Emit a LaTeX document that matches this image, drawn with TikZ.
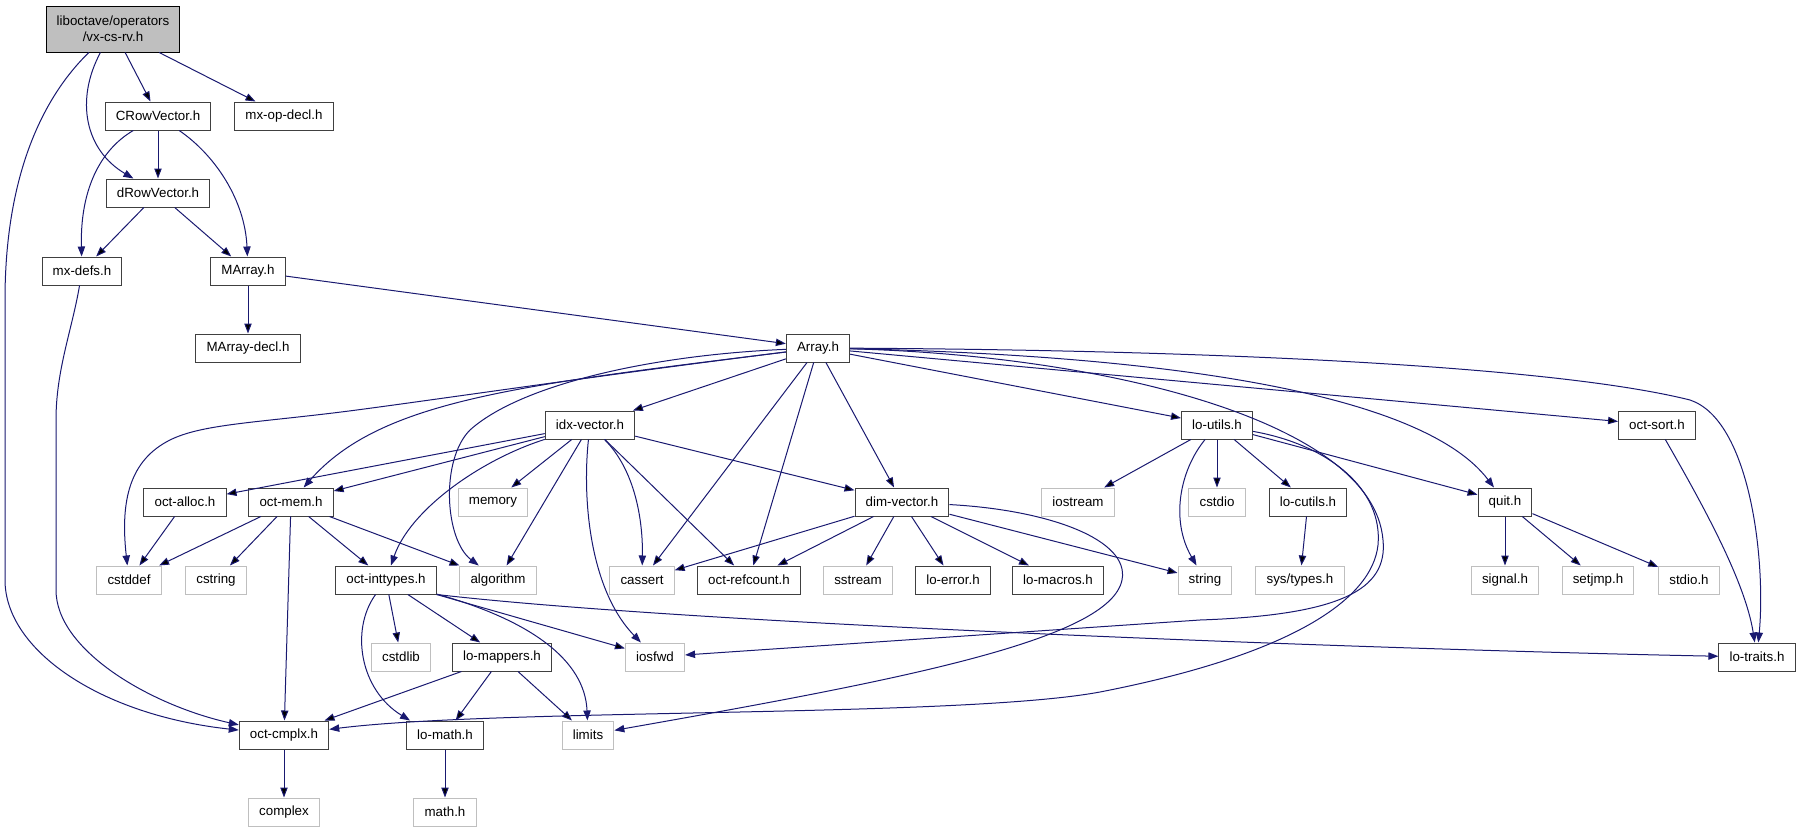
\documentclass[tikz,border=0pt]{standalone}
\usepackage{fontspec}
\setmainfont{Liberation Sans}
\usepackage{tikz}
\usetikzlibrary{arrows.meta}
\definecolor{edgeblue}{HTML}{191970}
\definecolor{boxgray}{HTML}{BFBFBF}
\definecolor{darkline}{HTML}{404040}
\tikzstyle{filenode}=[rectangle, draw=darkline, line width=0.75pt, minimum height=21pt,
inner xsep=8pt, inner ysep=2pt, font=\fontsize{10}{12}\selectfont]
\tikzstyle{mainnode}=[filenode, draw=black, fill=boxgray, align=center, minimum height=34.5pt]
\tikzstyle{sysnode}=[filenode, draw=boxgray]
\tikzstyle{edgepath}=[draw=edgeblue, line width=0.75pt, -{Triangle[length=7.5pt,width=5.5pt]}]

\begin{document}
\begin{tikzpicture}[x=0.75pt, y=-0.75pt]
    \useasboundingbox (0,0) rectangle (1800,832);

    \node[mainnode] (main) at (113,29) {liboctave/operators\\/vx-cs-rv.h};
    \node[filenode] (CRowVector) at (158,116) {CRowVector.h};
    \node[filenode] (mxopdecl) at (284,116) {mx-op-decl.h};
    \node[filenode] (dRowVector) at (158,193) {dRowVector.h};
    \node[filenode] (mxdefs) at (82,271) {mx-defs.h};
    \node[filenode] (MArray) at (248,271) {MArray.h};
    \node[filenode] (MArraydecl) at (248,348) {MArray-decl.h};
    \node[filenode] (Array) at (818,348) {Array.h};

    \node[filenode] (idxvector) at (590,425) {idx-vector.h};
    \node[filenode] (loutils) at (1217,425) {lo-utils.h};
    \node[filenode] (octsort) at (1657,425) {oct-sort.h};

    \node[filenode] (octalloc) at (185,502) {oct-alloc.h};
    \node[filenode] (octmem) at (291,502) {oct-mem.h};
    \node[sysnode] (memory) at (493,502) {memory};
    \node[filenode] (dimvector) at (902,502) {dim-vector.h};
    \node[sysnode] (iostream) at (1078,502) {iostream};
    \node[sysnode] (cstdio) at (1217,502) {cstdio};
    \node[filenode] (locutils) at (1308,502) {lo-cutils.h};
    \node[filenode] (quit) at (1505,502) {quit.h};

    \node[sysnode] (cstddef) at (129,580) {cstddef};
    \node[sysnode] (cstring) at (216,580) {cstring};
    \node[filenode] (octinttypes) at (386,580) {oct-inttypes.h};
    \node[sysnode] (algorithm) at (498,580) {algorithm};
    \node[sysnode] (cassert) at (642,580) {cassert};
    \node[filenode] (octrefcount) at (749,580) {oct-refcount.h};
    \node[sysnode] (sstream) at (858,580) {sstream};
    \node[filenode] (loerror) at (953,580) {lo-error.h};
    \node[filenode] (lomacros) at (1058,580) {lo-macros.h};
    \node[sysnode] (string) at (1205,580) {string};
    \node[sysnode] (systypes) at (1300,580) {sys/types.h};
    \node[sysnode] (signal) at (1505,580) {signal.h};
    \node[sysnode] (setjmp) at (1598,580) {setjmp.h};
    \node[sysnode] (stdio) at (1689,580) {stdio.h};

    \node[sysnode] (cstdlib) at (401,657) {cstdlib};
    \node[filenode] (lomappers) at (502,657) {lo-mappers.h};
    \node[sysnode] (iosfwd) at (655,657) {iosfwd};
    \node[filenode] (lotraits) at (1757,657) {lo-traits.h};

    \node[filenode] (octcmplx) at (284,735) {oct-cmplx.h};
    \node[filenode] (lomath) at (445,735) {lo-math.h};
    \node[sysnode] (limits) at (588,735) {limits};
    \node[sysnode] (complex) at (284,812) {complex};
    \node[sysnode] (mathh) at (445,812) {math.h};

    \path[edgepath]
        (main) edge (CRowVector)
        (main) edge (mxopdecl)
        (CRowVector) edge (dRowVector)
        (dRowVector) edge (mxdefs)
        (dRowVector) edge (MArray)
        (MArray) edge (MArraydecl)
        (MArray) edge (Array)
        (Array) edge (idxvector)
        (Array) edge (cassert)
        (Array) edge (octrefcount)
        (Array) edge (dimvector)
        (Array) edge (loutils)
        (Array) edge (octsort)
        (idxvector) edge (octalloc)
        (idxvector) edge (octmem)
        (idxvector) edge (memory)
        (idxvector) edge (algorithm)
        (idxvector) edge (octrefcount)
        (idxvector) edge (dimvector)
        (octalloc) edge (cstddef)
        (octmem) edge (cstddef)
        (octmem) edge (cstring)
        (octmem) edge (octcmplx)
        (octmem) edge (octinttypes)
        (octmem) edge (algorithm)
        (octinttypes) edge (cstdlib)
        (octinttypes) edge (lomappers)
        (octinttypes) edge (iosfwd)
        (lomappers) edge (octcmplx)
        (lomappers) edge (lomath)
        (lomappers) edge (limits)
        (octcmplx) edge (complex)
        (lomath) edge (mathh)
        (dimvector) edge (cassert)
        (dimvector) edge (octrefcount)
        (dimvector) edge (sstream)
        (dimvector) edge (loerror)
        (dimvector) edge (lomacros)
        (dimvector) edge (string)
        (loutils) edge (iostream)
        (loutils) edge (cstdio)
        (loutils) edge (locutils)
        (loutils) edge (quit)
        (locutils) edge (systypes)
        (quit) edge (signal)
        (quit) edge (setjmp)
        (quit) edge (stdio);

    \draw[edgepath] (main) .. controls (75,100) and (85,150) .. (dRowVector);
    \draw[edgepath] (main) .. controls (40,100) and (5,180) .. (5,300) -- (5,580)
        .. controls (5,650) and (100,715) .. (octcmplx);
    \draw[edgepath] (CRowVector) .. controls (100,150) and (80,190) .. (mxdefs);
    \draw[edgepath] (CRowVector) .. controls (215,155) and (245,200) .. (MArray);
    \draw[edgepath] (mxdefs) .. controls (72,330) and (56,370) .. (56,420) -- (56,590)
        .. controls (56,650) and (150,705) .. (octcmplx);

    \draw[edgepath] (Array) .. controls (520,385) and (380,400) .. (octmem);
    \draw[edgepath] (Array) .. controls (600,375) and (400,405) .. (333,413)
        .. controls (250,423) and (200,425) .. (170,440)
        .. controls (130,460) and (120,500) .. (cstddef);
    \draw[edgepath] (Array) .. controls (650,355) and (520,385) .. (470,430)
        .. controls (440,460) and (445,540) .. (algorithm);
    \draw[edgepath] (Array) .. controls (1150,355) and (1420,390) .. (quit);
    \draw[edgepath] (Array) .. controls (1200,350) and (1550,365) .. (1690,400)
        .. controls (1750,420) and (1766,560) .. (lotraits);
    \draw[edgepath] (Array) .. controls (1100,355) and (1373,420) .. (1383,540)
        .. controls (1388,590) and (1340,615) .. (1200,620) -- (iosfwd);
    \draw[edgepath] (octsort) .. controls (1700,500) and (1745,580) .. (lotraits);

    \draw[edgepath] (loutils) .. controls (1330,445) and (1383,490) .. (1378,545)
        .. controls (1372,600) and (1290,655) .. (1100,692)
        .. controls (960,718) and (500,708) .. (octcmplx);
    \draw[edgepath] (loutils) .. controls (1180,470) and (1170,520) .. (string);
    \draw[edgepath] (dimvector) .. controls (1050,510) and (1130,540) .. (1122,580)
        .. controls (1110,640) and (900,680) .. (limits);

    \draw[edgepath] (idxvector) .. controls (480,460) and (410,510) .. (octinttypes);
    \draw[edgepath] (idxvector) .. controls (582,500) and (590,590) .. (iosfwd);
    \draw[edgepath] (idxvector) .. controls (635,470) and (643,520) .. (cassert);

    \draw[edgepath] (octinttypes) .. controls (350,630) and (360,690) .. ([xshift=3pt]lomath.north west);
    \draw[edgepath] (octinttypes) .. controls (530,620) and (585,660) .. (limits);
    \draw[edgepath] (octinttypes.south east) .. controls (700,625) and (1400,650) .. (lotraits);
\end{tikzpicture}
\end{document}
